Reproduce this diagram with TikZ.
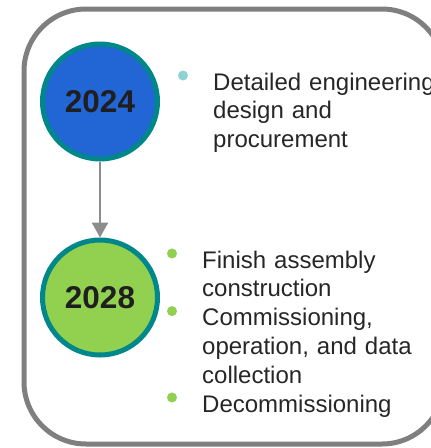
\documentclass[tikz,border=0pt]{standalone}
\usepackage{fontspec}
\setmainfont{Liberation Sans}
\usetikzlibrary{arrows.meta}
\definecolor{yrblue}{HTML}{2266D6}
\definecolor{yrteal}{HTML}{00878A}
\definecolor{yrgreen}{HTML}{92D050}
\definecolor{dotteal}{HTML}{8ED3D3}
\definecolor{framegray}{HTML}{7F7F7F}
\begin{document}
\begin{tikzpicture}[x=1pt,y=-1pt,line join=round,>=Triangle]
				\tikzset{year/.style={circle,draw=yrteal,line width=5pt,minimum size=115pt,inner sep=0pt,
						text=black!88,font=\fontsize{31.5}{36}\selectfont\bfseries},
					item/.style={anchor=base west,inner sep=0pt,text width=240pt,align=left,
						text=black!85,font=\fontsize{24}{28.8}\selectfont},
					conn/.style={draw=framegray!90,line width=2.5pt,-{Triangle[width=16pt,length=15pt]}}}
				\useasboundingbox (0,0) rectangle (431,448);
				\draw[framegray,line width=5pt,rounded corners=62pt] (24,9) rectangle (444,444);
				\node[year,fill=yrblue] (y2024) at (100,101.5) {2024};
				\node[year,fill=yrgreen] (y2028) at (100,297.5) {2028};
				\draw[conn] (y2024) -- (y2028);
				\node[item] (plan) at (213,90) {Detailed engineering\\design and\\procurement};
				\node[item] (build) at (202,268) {Finish assembly\\construction};
				\node[item] (run) at (202,325.6) {Commissioning,\\operation, and data\\collection};
				\node[item] (stop) at (202,412) {Decommissioning};
				\foreach \n/\c in {plan/dotteal,build/yrgreen,run/yrgreen,stop/yrgreen}
				\fill[\c] ([xshift=-30pt,yshift=14.5pt]\n.base west) circle (5pt);
			\end{tikzpicture}
\end{document}
